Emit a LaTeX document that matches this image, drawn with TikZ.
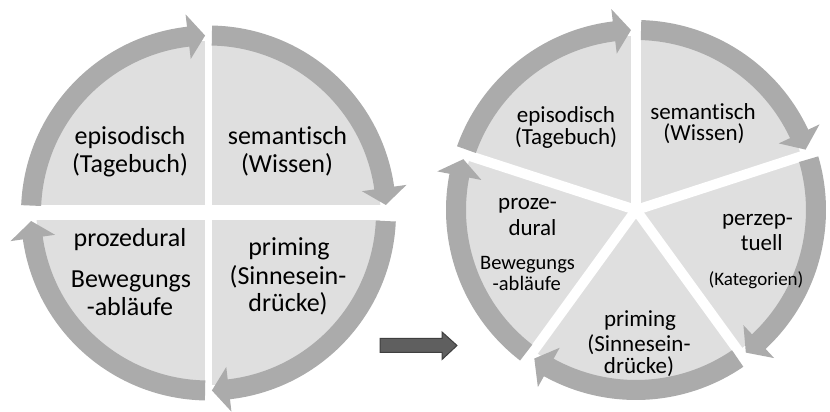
\documentclass[tikz,border=0pt]{standalone}
\usepackage{fontspec}
\setmainfont{Carlito}[Ligatures={NoCommon}]
\usetikzlibrary{calc}
\definecolor{ringc}{HTML}{ABABAB}
\definecolor{fillc}{HTML}{DFDFDF}
\definecolor{arrc}{HTML}{5F5F5F}
\definecolor{arrd}{HTML}{3F3F3F}
\newcommand{\ringarrow}[4]{% #1 centre, #2 start angle, #3 tip angle, #4 mid radius
  \pgfmathsetmacro\hbang{#3+17/#4*180/pi}%
  \pgfmathsetmacro\rOut{#4+10}%
  \pgfmathsetmacro\rIn{#4-10}%
  \pgfmathsetmacro\hOut{#4+22.5}%
  \pgfmathsetmacro\hIn{#4-22.5}%
  \fill[ringc,shift={(#1)}] (#2:\rOut pt) arc[start angle=#2, end angle=\hbang, radius=\rOut pt]
    -- (\hbang:\hOut pt) -- (#3:#4pt) -- (\hbang:\hIn pt) -- (\hbang:\rIn pt)
    arc[start angle=\hbang, end angle=#2, radius=\rIn pt] -- cycle;}
\begin{document}
\begin{tikzpicture}[x=1pt,y=1pt,
  lt/.style={font=\fontsize{26}{31}\selectfont, anchor=base, inner sep=0pt},
  rt/.style={font=\fontsize{23}{27}\selectfont, anchor=base, inner sep=0pt},
  rs/.style={font=\fontsize{20.5}{24}\selectfont, anchor=base, inner sep=0pt},
  rk/.style={font=\fontsize{19}{23}\selectfont, anchor=base, inner sep=0pt},
  gap/.style={white, line cap=butt}]
\useasboundingbox (0,0) rectangle (830,412);
% ---------- left diagram ----------
\coordinate (cl) at (208.5,199);
\fill[fillc] (cl) circle[radius=172pt];
\draw[gap, line width=7pt] ($(cl)+(0,-195)$) -- ($(cl)+(0,195)$);
\draw[gap, line width=15pt] ($(cl)+(-195,0)$) -- ($(cl)+(195,0)$);
\ringarrow{cl}{177.6}{91.1}{177.5}
\ringarrow{cl}{88.9}{2.6}{177.5}
\ringarrow{cl}{-2.6}{-88.9}{177.5}
\ringarrow{cl}{268.9}{182.6}{177.5}
\node[lt] (le1) at (130,267) {episodisch};
\node[lt] (le2) at (130,239) {(Tagebuch)};
\node[lt] (ls1) at (287.5,267) {semantisch};
\node[lt] (ls2) at (287,239) {(Wissen)};
\node[lt] (lp1) at (130,165) {prozedural};
\node[lt] (lp2) at (131,124) {Bewegungs};
\node[lt] (lp3) at (130,96) {-abläufe};
\node[lt] (lq1) at (289,156) {priming};
\node[lt] (lq2) at (288,127) {(Sinnesein-};
\node[lt] (lq3) at (288,100) {drücke)};
% ---------- middle arrow ----------
\filldraw[fill=arrc, draw=arrd, line width=1pt]
  (380,73.5) -- (442,73.5) -- (442,80) -- (457,66.5) -- (442,52.5) -- (442,59.5) -- (380,59.5) -- cycle;
% ---------- right diagram ----------
\coordinate (cr) at (636,202);
\fill[fillc] (cr) circle[radius=174pt];
\foreach \a in {90,18,-54,-126,162}
  \draw[gap, line width=10pt] (cr) -- ($(cr)+(\a:200pt)$);
\ringarrow{cr}{160.4}{91.6}{180}
\ringarrow{cr}{88.4}{19.6}{180}
\ringarrow{cr}{16.4}{-52.4}{180}
\ringarrow{cr}{-55.6}{-124.4}{180}
\ringarrow{cr}{232.4}{163.6}{180}
\node[rt] (re1) at (566,289) {episodisch};
\node[rt] (re2) at (566,267) {(Tagebuch)};
\node[rt] (rs1) at (703,292) {semantisch};
\node[rt] (rs2) at (704,271) {(Wissen)};
\node[rt] (rz1) at (757.5,186) {perzep-};
\node[rt] (rz2) at (761.7,161) {tuell};
\node[rk] (rz3) at (756,126.5) {(Kategorien)};
\node[rt] (rq1) at (640,85) {priming};
\node[rt] (rq2) at (639,60.5) {(Sinnesein-};
\node[rt] (rq3) at (639,38) {drücke)};
\node[rt] (rp1) at (527.5,202) {proze-};
\node[rt] (rp2) at (532.5,176) {dural};
\node[rs] (rp3) at (527.5,142) {Bewegungs};
\node[rs] (rp4) at (526.7,121) {-abläufe};
\end{tikzpicture}
\end{document}
